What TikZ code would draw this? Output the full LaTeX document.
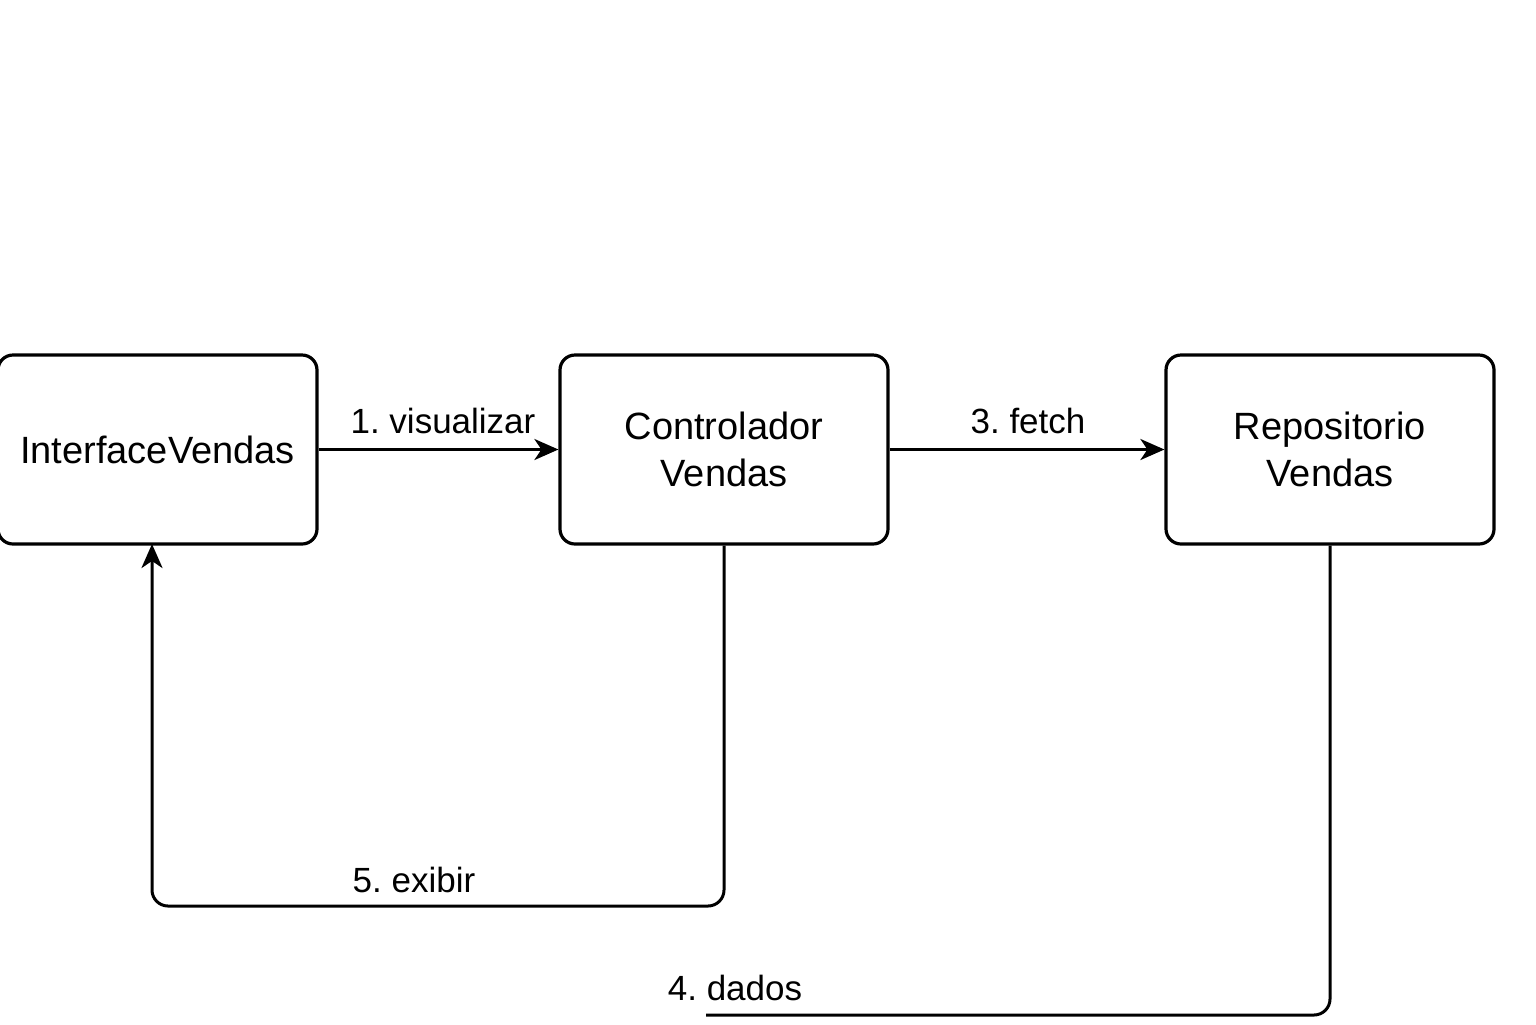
\documentclass[tikz,border=0pt]{standalone}
\usepackage{fontspec}
\setmainfont{Liberation Sans}
\usetikzlibrary{arrows.meta}
\begin{document}
\frenchspacing
\begin{tikzpicture}[x=0.5pt,y=-0.5pt,
  box/.style={draw, line width=1.6pt, rounded corners=7.5pt, minimum width=164pt, minimum height=94.5pt, align=center, font=\fontsize{19}{23.5}\selectfont, inner sep=0pt},
  conn/.style={line width=1.5pt},
  arr/.style={conn, -{Stealth[length=12pt,width=10.5pt,inset=3.5pt]}},
  lbl/.style={font=\fontsize{17.5}{21}\selectfont, inner sep=0pt}]
\useasboundingbox (0,0) rectangle (1536,1024);
\node[box, minimum width=159.5pt] (iv) at (157.5,449.5) {InterfaceVendas};
\node[box] (cv) at (724,449.5) {Controlador\\Vendas};
\node[box] (rv) at (1330,449.5) {Repositorio\\Vendas};
\draw[arr] (iv.east) -- (cv.west);
\draw[arr] (cv.east) -- (rv.west);
\node[lbl] (l1) at (443,421) {1. visualizar};
\node[lbl] (l3) at (1028,421) {3. fetch};
\coordinate (ivin) at (152,544);
\coordinate (dEnd) at (706,1015);
\draw[arr, rounded corners=8pt] (cv.south) -- (724,906) -- (152,906) -- (ivin);
\draw[conn, rounded corners=8pt] (rv.south) -- (1330,1015) -- (dEnd);
\node[lbl] (l5) at (414,880) {5. exibir};
\node[lbl] (l4) at (735,988) {4. dados};
\end{tikzpicture}
\end{document}
